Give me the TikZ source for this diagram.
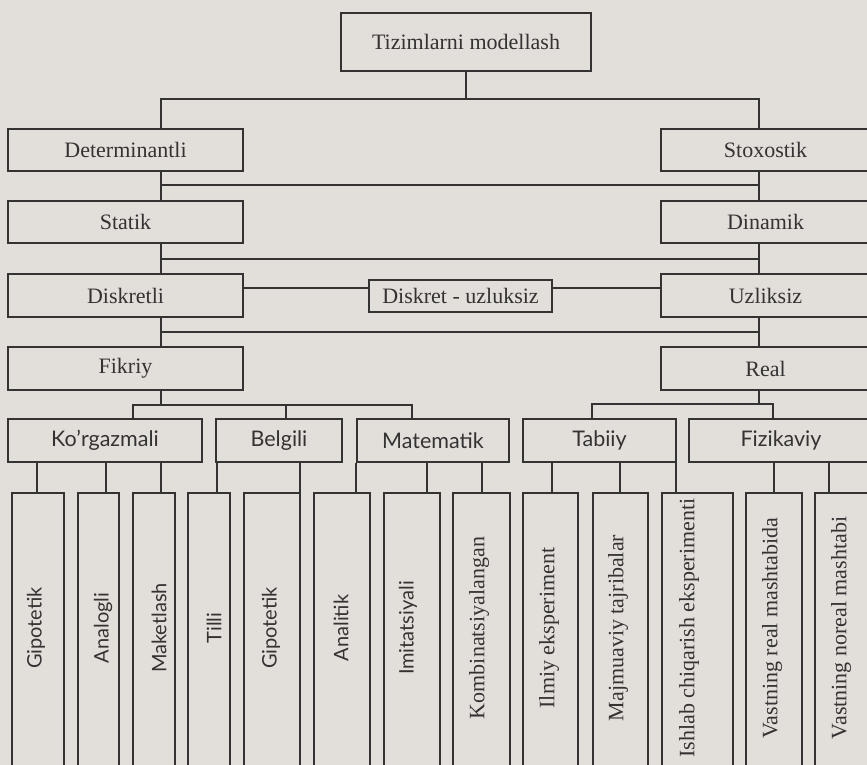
\documentclass[tikz,border=0pt]{standalone}
\usepackage{fontspec}
\setmainfont{Liberation Serif}
\newfontfamily\humfont{Lato}
\definecolor{paper}{RGB}{226,222,218}
\definecolor{ink}{RGB}{52,50,50}
\begin{document}
\begin{tikzpicture}[x=1pt,y=-1pt,
  conn/.style={draw=ink,line width=1.8pt},
  box/.style={draw=ink,line width=1.8pt,inner sep=0pt,text=ink,
    font=\fontsize{22}{26}\selectfont},
  hbox/.style={box,minimum height=43pt,font=\humfont\fontsize{21.5}{26}\selectfont},
  leafbox/.style={draw=ink,line width=1.8pt,inner sep=0pt,minimum height=290pt,anchor=north},
  stext/.style={rotate=90,inner sep=0pt,text=ink,font=\fontsize{22}{26}\selectfont},
  htext/.style={rotate=90,inner sep=0pt,text=ink,font=\humfont\fontsize{20}{24}\selectfont}]
\useasboundingbox (0,0) rectangle (867,765);
\fill[paper] (0,0) rectangle (867,765);

% top levels
\node[box,minimum width=250pt,minimum height=58pt] (top) at (466,42) {Tizimlarni modellash};
\node[box,minimum width=235pt,minimum height=42pt] (det) at (125.5,150) {Determinantli};
\node[box,minimum width=209pt,minimum height=42pt] (sto) at (765.5,150) {Stoxostik};
\node[box,minimum width=235pt,minimum height=42pt] (stat) at (125.5,222) {Statik};
\node[box,minimum width=209pt,minimum height=42pt] (din) at (765.5,222) {Dinamik};
\node[box,minimum width=235pt,minimum height=43pt] (disk) at (125.5,295.5) {Diskretli};
\node[box,minimum width=183pt,minimum height=32pt] (du) at (460.5,296) {Diskret - uzluksiz};
\node[box,minimum width=209pt,minimum height=43pt] (uzl) at (765.5,295.5) {Uzliksiz};
\node[box,minimum width=235pt,minimum height=43pt] (fik) at (125.5,368.5) {Fikriy};
\node[box,minimum width=209pt,minimum height=43pt] (real) at (765.5,368.5) {Real};

\coordinate (xL) at (161,0);
\coordinate (xR) at (759,0);
\coordinate (h0) at (0,99);
\coordinate (h1) at (0,185);
\coordinate (h2) at (0,259);
\coordinate (h3) at (0,332);
\coordinate (hm) at (0,288);

\draw[conn] (top.south) -- (top.south |- h0);
\draw[conn] (det.north -| xL) -- (h0 -| xL) -- (h0 -| xR) -- (sto.north -| xR);
\draw[conn] (det.south -| xL) -- (stat.north -| xL);
\draw[conn] (sto.south -| xR) -- (din.north -| xR);
\draw[conn] (h1 -| xL) -- (h1 -| xR);
\draw[conn] (stat.south -| xL) -- (disk.north -| xL);
\draw[conn] (din.south -| xR) -- (uzl.north -| xR);
\draw[conn] (h2 -| xL) -- (h2 -| xR);
\draw[conn] (disk.south -| xL) -- (fik.north -| xL);
\draw[conn] (uzl.south -| xR) -- (real.north -| xR);
\draw[conn] (h3 -| xL) -- (h3 -| xR);
\draw[conn] (disk.east |- hm) -- (du.west |- hm);
\draw[conn] (du.east |- hm) -- (uzl.west |- hm);

% second level
\node[hbox,minimum width=194pt] (korg) at (105,440.5) {Ko’rgazmali};
\node[hbox,minimum width=126pt] (belg) at (279,440.5) {Belgili};
\node[hbox,minimum width=152pt] (mat) at (433,440.5) {Matematik};
\node[hbox,minimum width=153pt] (tab) at (599.5,440.5) {Tabiiy};
\node[hbox,minimum width=184pt] (fiz) at (781,440.5) {Fizikaviy};

\coordinate (fa) at (133,405);
\coordinate (fm) at (286,405);
\coordinate (fb) at (412,405);
\draw[conn] (fik.south -| xL) -- (fa -| xL);
\draw[conn] (korg.north -| fa) -- (fa) -- (fb) -- (mat.north -| fb);
\draw[conn] (fm) -- (belg.north -| fm);
\coordinate (ra) at (592,404);
\coordinate (rb) at (773,404);
\draw[conn] (real.south -| xR) -- (ra -| xR);
\draw[conn] (tab.north -| ra) -- (ra) -- (rb) -- (fiz.north -| rb);

% leaves
\node[leafbox,minimum width=52pt] (l1) at (38,492) {};
\node[leafbox,minimum width=41pt] (l2) at (98.5,492) {};
\node[leafbox,minimum width=42pt] (l3) at (154,492) {};
\node[leafbox,minimum width=42pt] (l4) at (209,492) {};
\node[leafbox,minimum width=56pt] (l5) at (272,492) {};
\node[leafbox,minimum width=56pt] (l6) at (342,492) {};
\node[leafbox,minimum width=56pt] (l7) at (412,492) {};
\node[leafbox,minimum width=57pt] (l8) at (481.5,492) {};
\node[leafbox,minimum width=55pt] (l9) at (550.5,492) {};
\node[leafbox,minimum width=55pt] (l10) at (620.5,492) {};
\node[leafbox,minimum width=71pt] (l11) at (697.5,492) {};
\node[leafbox,minimum width=56pt] (l12) at (774,492) {};
\node[leafbox,minimum width=60pt] (l13) at (845,492) {};

\foreach \n/\x in {1/37,2/106,3/161,4/217,5/300,6/356,7/427,8/482,9/552,10/620,11/676,12/774,13/829}
  \coordinate (c\n) at (\x,0);

\draw[conn] (korg.south -| c1) -- (l1.north -| c1);
\draw[conn] (korg.south -| c2) -- (l2.north -| c2);
\draw[conn] (korg.south -| c3) -- (l3.north -| c3);
\draw[conn] (belg.south -| c4) -- (l4.north -| c4);
\draw[conn] (belg.south -| c5) -- (l5.north -| c5);
\draw[conn] (mat.south -| c6) -- (l6.north -| c6);
\draw[conn] (mat.south -| c7) -- (l7.north -| c7);
\draw[conn] (mat.south -| c8) -- (l8.north -| c8);
\draw[conn] (tab.south -| c9) -- (l9.north -| c9);
\draw[conn] (tab.south -| c10) -- (l10.north -| c10);
\draw[conn] (tab.south -| c11) -- (l11.north -| c11);
\draw[conn] (fiz.south -| c12) -- (l12.north -| c12);
\draw[conn] (fiz.south -| c13) -- (l13.north -| c13);

\node[htext] (t1) at (36,628) {Gipotetik};
\node[htext] (t2) at (103,628) {Analogli};
\node[htext] (t3) at (159,628) {Maketlash};
\node[htext] (t4) at (214,628) {Tilli};
\node[htext] (t5) at (271,628) {Gipotetik};
\node[htext] (t6) at (341,628) {Analitik};
\node[htext] (t7) at (408,628) {Imitatsiyali};
\node[stext] (t8) at (479,628) {Kombinatsiyalangan};
\node[stext] (t9) at (549,628) {Ilmiy eksperiment};
\node[stext] (t10) at (618,628) {Majmuaviy tajribalar};
\node[stext] (t11) at (689,628) {Ishlab chiqarish eksperimenti};
\node[stext] (t12) at (772,628) {Vastning real mashtabida};
\node[stext] (t13) at (841,628) {Vastning noreal mashtabi};
\end{tikzpicture}
\end{document}
